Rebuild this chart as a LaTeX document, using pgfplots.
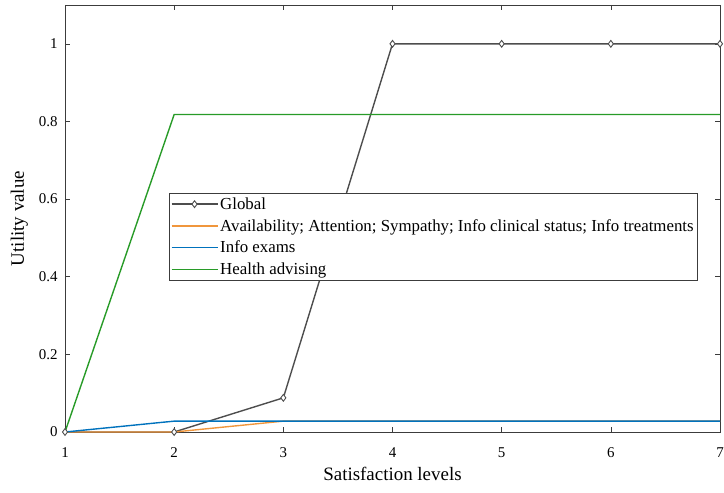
\documentclass[border=0pt]{standalone}
\usepackage{fontspec}
\setmainfont{Liberation Serif}
\usepackage{pgfplots}
\pgfplotsset{compat=1.18}
\definecolor{cglobal}{RGB}{77,77,77}
\definecolor{corange}{RGB}{240,150,60}
\definecolor{cblue}{RGB}{0,114,189}
\definecolor{cgreen}{RGB}{40,155,40}
\definecolor{ctext}{RGB}{60,60,60}
\begin{document}
\begin{tikzpicture}
\begin{axis}[
  scale only axis,
  width=655bp, height=427bp,
  xmin=1, xmax=7, ymin=0, ymax=1.1,
  xtick={1,2,3,4,5,6,7},
  ytick={0,0.2,0.4,0.6,0.8,1},
  yticklabels={0,0.2,0.4,0.6,0.8,1},
  tick align=inside,
  major tick length=5bp,
  tick style={ctext, line width=0.6pt},
  axis line style={ctext, line width=0.6pt},
  font=\fontsize{15}{17}\selectfont,
  /pgf/number format/assume math mode=true,
  tick label style={font=\fontsize{15}{17}\selectfont},
  xticklabel style={yshift=-12bp},
  yticklabel style={xshift=-4bp},
  label style={font=\fontsize{19}{21}\selectfont},
  xlabel={Satisfaction levels},
  ylabel={Utility value},
  xlabel style={yshift=-3bp},
  ylabel style={yshift=4bp},
  legend style={at={(0.159,0.56)}, anchor=north west, draw=ctext,
    font=\fontsize{16.9}{19}\selectfont, cells={anchor=west},
    inner xsep=1.5pt, inner ysep=2.5pt, row sep=4.5bp},
  legend image code/.code={\draw[#1] (0bp,0bp) -- (46bp,0bp); \draw[#1] plot coordinates {(23bp,0bp)};},
]
\addplot[draw=cglobal, line width=1.4pt, mark=diamond*, mark size=3.4bp, mark options={draw=cglobal, fill=white, line width=0.9pt}]
  coordinates {(1,0) (2,0) (3,0.088) (4,1) (5,1) (6,1) (7,1)};
\addlegendentry{Global}
\addplot[draw=corange, line width=1.4pt]
  coordinates {(1,0) (2,0) (3,0.028) (4,0.028) (5,0.028) (6,0.028) (7,0.028)};
\addlegendentry{Availability; Attention; Sympathy; Info clinical status; Info treatments}
\addplot[draw=cblue, line width=1.4pt]
  coordinates {(1,0) (2,0.028) (3,0.028) (4,0.028) (5,0.028) (6,0.028) (7,0.028)};
\addlegendentry{Info exams}
\addplot[draw=cgreen, line width=1.4pt]
  coordinates {(1,0) (2,0.818) (3,0.818) (4,0.818) (5,0.818) (6,0.818) (7,0.818)};
\addlegendentry{Health advising}
\end{axis}
\pgfresetboundingbox
\path ([shift={(-65bp,-60bp)}]current axis.south west) rectangle ([shift={(4bp,5bp)}]current axis.north east);
\end{tikzpicture}
\end{document}
